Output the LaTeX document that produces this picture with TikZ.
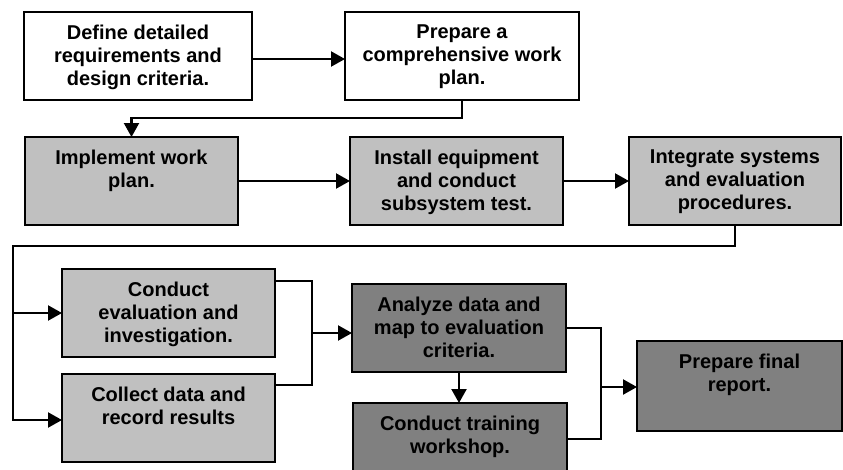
\documentclass[tikz,border=0pt]{standalone}
\usepackage{fontspec}
\setmainfont{Liberation Sans}
\usetikzlibrary{arrows.meta}
\definecolor{lightg}{HTML}{C0C0C0}
\definecolor{darkg}{HTML}{808080}
\tikzset{
  box/.style={draw=black, line width=2.2pt, inner sep=0pt, outer sep=0pt},
  wbox/.style={box, fill=white},
  lbox/.style={box, fill=lightg},
  dbox/.style={box, fill=darkg},
  txt/.style={anchor=north, align=center, inner sep=0pt, font=\bfseries\fontsize{20}{23}\selectfont},
  conn/.style={line width=2.2pt, line join=miter},
  arr/.style={conn, -{Triangle[length=14pt,width=15pt]}}
}
\begin{document}
\begin{tikzpicture}[x=1pt,y=-1pt]
\useasboundingbox (0,0) rectangle (843,469);
\clip (0,0) rectangle (843,469);
% boxes
\node[wbox, minimum width=228pt, minimum height=88pt] (b1) at (138,56) {};
\node[wbox, minimum width=234pt, minimum height=88pt] (b2) at (462,56) {};
\node[lbox, minimum width=213pt, minimum height=88pt] (b3) at (131.5,181) {};
\node[lbox, minimum width=213pt, minimum height=88pt] (b4) at (456.5,181) {};
\node[lbox, minimum width=212pt, minimum height=88pt] (b5) at (735,181) {};
\node[lbox, minimum width=213pt, minimum height=88pt] (b6) at (168.5,313) {};
\node[lbox, minimum width=213pt, minimum height=88pt] (b7) at (168.5,418) {};
\node[dbox, minimum width=214pt, minimum height=88pt] (b8) at (459,328) {};
\node[dbox, minimum width=214pt, minimum height=88pt] (b9) at (460,447) {};
\node[dbox, minimum width=205pt, minimum height=90pt] (b10) at (739.5,386) {};
% texts
\node[txt] (t1) at ([yshift=-13pt]b1.north) {Define detailed\\requirements and\\design criteria.};
\node[txt] (t2) at ([yshift=-13pt]b2.north) {Prepare a\\comprehensive work\\plan.};
\node[txt] (t3) at ([yshift=-13pt]b3.north) {Implement work\\plan.};
\node[txt] (t4) at ([yshift=-13pt]b4.north) {Install equipment\\and conduct\\subsystem test.};
\node[txt] (t5) at ([yshift=-13pt]b5.north) {Integrate systems\\and evaluation\\procedures.};
\node[txt] (t6) at ([yshift=-13pt]b6.north) {Conduct\\evaluation and\\investigation.};
\node[txt] (t7) at ([yshift=-13pt]b7.north) {Collect data and\\record results};
\node[txt] (t8) at ([yshift=-13pt]b8.north) {Analyze data and\\map to evaluation\\criteria.};
\node[txt] (t9) at ([yshift=-13pt]b9.north) {Conduct training\\workshop.};
\node[txt] (t10) at ([yshift=-13pt]b10.north) {Prepare final\\report.};
% connectors
\draw[arr] ([yshift=-3pt]b1.east) -- ([yshift=-3pt]b2.west);
\draw[arr] (b2.south) -- ++(0,18) -| (b3.north);
\draw[arr] (b3.east) -- (b3.east -| b4.west);
\draw[arr] (b4.east) -- (b4.east -| b5.west);
\coordinate (lx) at (13,246);
\draw[arr] (b5.south) |- (lx) |- (b6.west);
\draw[arr] (lx) |- ([yshift=-2pt]b7.west);
\coordinate (m1) at (312,281);
\coordinate (m2) at (312,385);
\coordinate (m3) at (312,333);
\draw[conn] (m1 -| b6.east) -- (m1) -- (m2) -- (m2 -| b7.east);
\draw[arr] (m3) -- (m3 -| b8.west);
\draw[arr] (b8.south) -- (b8.south |- b9.north);
\coordinate (n1) at (601,439);
\coordinate (n3) at (601,387);
\draw[conn] (b8.east) -| (n1) -- (n1 -| b9.east);
\draw[arr] (n3) -- (n3 -| b10.west);
\end{tikzpicture}
\end{document}
